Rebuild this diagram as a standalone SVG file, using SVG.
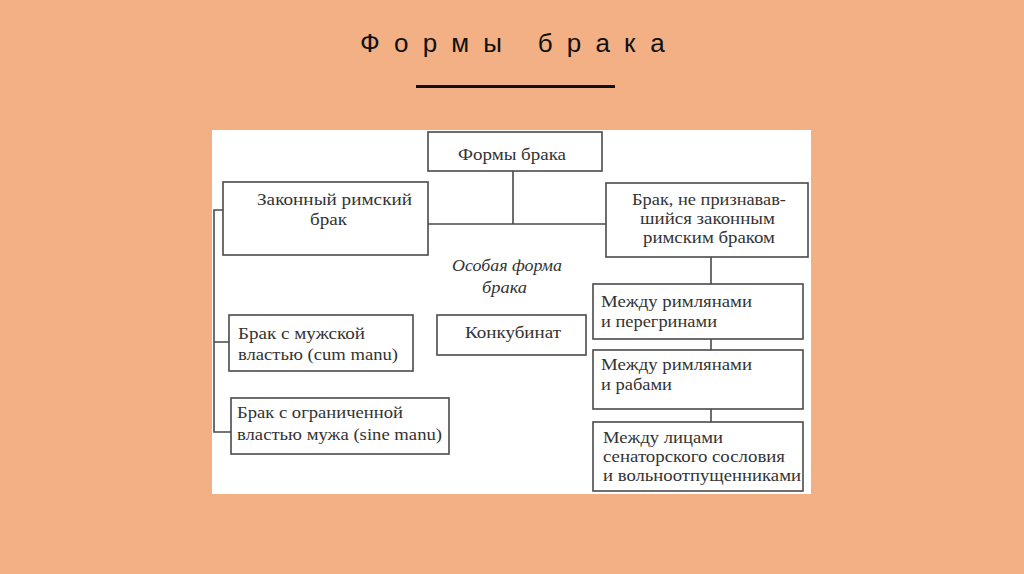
<svg xmlns="http://www.w3.org/2000/svg" width="1024" height="574" viewBox="0 0 1024 574">
<style>
.bg{fill:#F2B084}
.panel{fill:#ffffff}
.box{fill:#ffffff;stroke:#4a4a4a;stroke-width:1.6}
.con{fill:none;stroke:#4a4a4a;stroke-width:1.6}
.t{font-family:"Liberation Serif","DejaVu Serif",serif;font-size:17px;fill:#333333}
.it{font-style:italic}
.title{font-family:"Liberation Sans","DejaVu Sans",sans-serif;font-size:26px;fill:#111111;letter-spacing:14.2px}
</style>
<rect class="bg" x="0" y="0" width="1024" height="574"/>
<text class="title" x="360" y="52">Формы брака</text>
<rect x="416" y="85" width="199" height="3" fill="#111111"/>
<rect class="panel" x="212" y="130" width="599" height="364"/>
<g id="connectors">
<path class="con" d="M513 171 V224 M428 224 H606"/>
<path class="con" d="M223 210 H214 V432 H231 M214 342 H229"/>
<path class="con" d="M711 257 V284 M711 339 V350 M711 409 V422"/>
</g>
<g id="n-top"><rect class="box" x="428" y="132" width="174" height="39"/><text class="t" x="458" y="160" textLength="108" lengthAdjust="spacingAndGlyphs">Формы брака</text></g>
<g id="n-legal"><rect class="box" x="223" y="182" width="205" height="73"/><text class="t" x="257" y="205" textLength="155" lengthAdjust="spacingAndGlyphs">Законный римский</text><text class="t" x="310" y="225" textLength="37" lengthAdjust="spacingAndGlyphs">брак</text></g>
<g id="n-notlegal"><rect class="box" x="606" y="183" width="202" height="74"/><text class="t" x="632" y="205" textLength="154" lengthAdjust="spacingAndGlyphs">Брак, не признавав-</text><text class="t" x="640" y="224" textLength="135" lengthAdjust="spacingAndGlyphs">шийся законным</text><text class="t" x="643" y="243" textLength="132" lengthAdjust="spacingAndGlyphs">римским браком</text></g>
<g id="n-special"><text class="t it" x="452" y="271" textLength="110" lengthAdjust="spacingAndGlyphs">Особая форма</text><text class="t it" x="482" y="293" textLength="45" lengthAdjust="spacingAndGlyphs">брака</text></g>
<g id="n-cum"><rect class="box" x="229" y="315" width="184" height="56"/><text class="t" x="238" y="339" textLength="127" lengthAdjust="spacingAndGlyphs">Брак с мужской</text><text class="t" x="238" y="360" textLength="160" lengthAdjust="spacingAndGlyphs">властью (cum manu)</text></g>
<g id="n-sine"><rect class="box" x="231" y="398" width="218" height="56"/><text class="t" x="237" y="418" textLength="166" lengthAdjust="spacingAndGlyphs">Брак с ограниченной</text><text class="t" x="237" y="440" textLength="205" lengthAdjust="spacingAndGlyphs">властью мужа (sine manu)</text></g>
<g id="n-konk"><rect class="box" x="437" y="315" width="149" height="40"/><text class="t" x="465" y="338" textLength="96" lengthAdjust="spacingAndGlyphs">Конкубинат</text></g>
<g id="n-peregr"><rect class="box" x="593" y="284" width="210" height="55"/><text class="t" x="601" y="307" textLength="151" lengthAdjust="spacingAndGlyphs">Между римлянами</text><text class="t" x="601" y="327" textLength="116" lengthAdjust="spacingAndGlyphs">и перегринами</text></g>
<g id="n-slaves"><rect class="box" x="593" y="350" width="210" height="59"/><text class="t" x="601" y="370" textLength="151" lengthAdjust="spacingAndGlyphs">Между римлянами</text><text class="t" x="601" y="390" textLength="71" lengthAdjust="spacingAndGlyphs">и рабами</text></g>
<g id="n-senat"><rect class="box" x="593" y="422" width="210" height="69"/><text class="t" x="603" y="443" textLength="120" lengthAdjust="spacingAndGlyphs">Между лицами</text><text class="t" x="603" y="462" textLength="182" lengthAdjust="spacingAndGlyphs">сенаторского сословия</text><text class="t" x="603" y="481" textLength="198" lengthAdjust="spacingAndGlyphs">и вольноотпущенниками</text></g>
</svg>
